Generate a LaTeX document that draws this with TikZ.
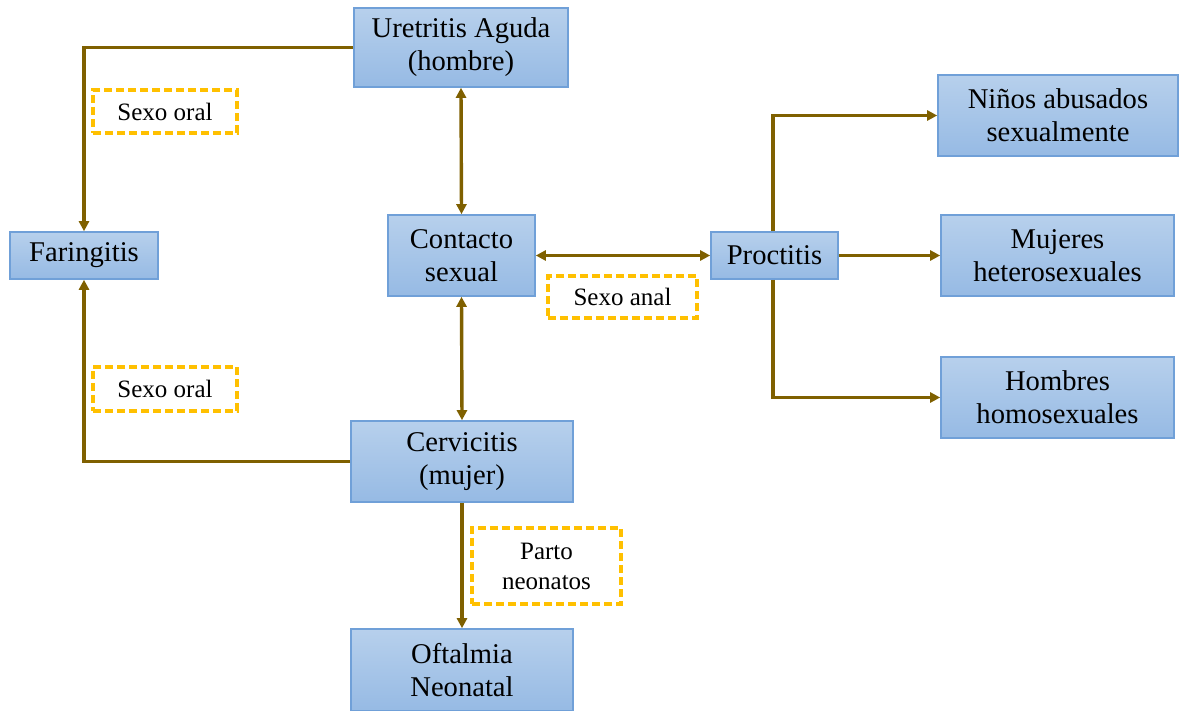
\documentclass[tikz,border=0pt]{standalone}
\usepackage{fontspec}
\setmainfont{Liberation Serif}
\usetikzlibrary{arrows.meta,positioning}
\definecolor{boxtop}{RGB}{183,208,236}
\definecolor{boxbot}{RGB}{150,186,228}
\definecolor{boxedge}{RGB}{112,160,216}
\definecolor{linkbrown}{RGB}{127,96,0}
\definecolor{notegold}{RGB}{255,192,0}
\tikzset{
  sitebox/.style={draw=boxedge, line width=0.8pt,
    top color=boxtop, bottom color=boxbot,
    align=center, inner sep=0pt,
    font=\fontsize{14.3}{16.5}\selectfont},
  notebox/.style={draw=notegold, line width=1.7pt,
    dash pattern=on 4pt off 2pt,
    align=center, inner sep=0pt,
    font=\fontsize{12.5}{15}\selectfont},
  link/.style={-{Triangle[length=5pt,width=5pt]}, line width=1.7pt, linkbrown},
  dlink/.style={{Triangle[length=5pt,width=5pt]}-{Triangle[length=5pt,width=5pt]},
    line width=1.7pt, linkbrown},
}

\begin{document}
\begin{tikzpicture}[x=0.5pt, y=-0.5pt]
  \useasboundingbox (0,0) rectangle (1180,711);

  % Main boxes
  \node[sitebox, minimum width=107pt, minimum height=39.5pt] (ure) at (461,47.5)
    {Uretritis Aguda\\(hombre)};
  \node[sitebox, minimum width=74pt, minimum height=23.5pt] (far) at (84,255.5)
    {Faringitis};
  \node[sitebox, minimum width=73.5pt, minimum height=40.5pt] (con) at (461.5,255.5)
    {Contacto\\sexual};
  \node[sitebox, minimum width=63.5pt, minimum height=23.5pt] (pro) at (774.5,255.5)
    {Proctitis};
  \node[sitebox, minimum width=111pt, minimum height=40.5pt] (cer) at (462,461.5)
    {Cervicitis\\(mujer)};
  \node[sitebox, minimum width=111pt, minimum height=41pt] (oft) at (462,670)
    {Oftalmia\\Neonatal};

  % Groups at risk
  \node[sitebox, minimum width=120pt, minimum height=40.5pt] (nin) at (1058,115.5)
    {Niños abusados\\sexualmente};
  \node[sitebox, minimum width=116.5pt, minimum height=40.5pt] (muj) at (1057.5,255.5)
    {Mujeres\\heterosexuales};
  \node[sitebox, minimum width=116.5pt, minimum height=40.5pt] (hom) at (1057.5,397.5)
    {Hombres\\homosexuales};

  % Transmission notes
  \node[notebox, minimum width=72pt, minimum height=21.5pt] (oraltop) at (165,111.5)
    {Sexo oral};
  \node[notebox, minimum width=72pt, minimum height=22pt] (oralbot) at (165,389)
    {Sexo oral};
  \node[notebox, minimum width=74.5pt, minimum height=21pt] (anal) at (622.5,297)
    {Sexo anal};
  \node[notebox, minimum width=74.5pt, minimum height=38pt] (parto) at (546.5,566)
    {Parto\\neonatos};

  % Connectors
  \draw[link] (ure.west) -| (far.north);
  \draw[link] (cer.west) -| (far.south);
  \draw[dlink] (con.north) -- (ure.south);
  \draw[dlink] (con.south) -- (cer.north);
  \draw[dlink] (con.east) -- (pro.west);
  \draw[link] (cer.south) -- (oft.north);
  \draw[link] ([xshift=-0.75pt]pro.north) |- (nin.west);
  \draw[link] (pro.east) -- (muj.west);
  \draw[link] ([xshift=-0.75pt]pro.south) |- (hom.west);
\end{tikzpicture}
\end{document}
